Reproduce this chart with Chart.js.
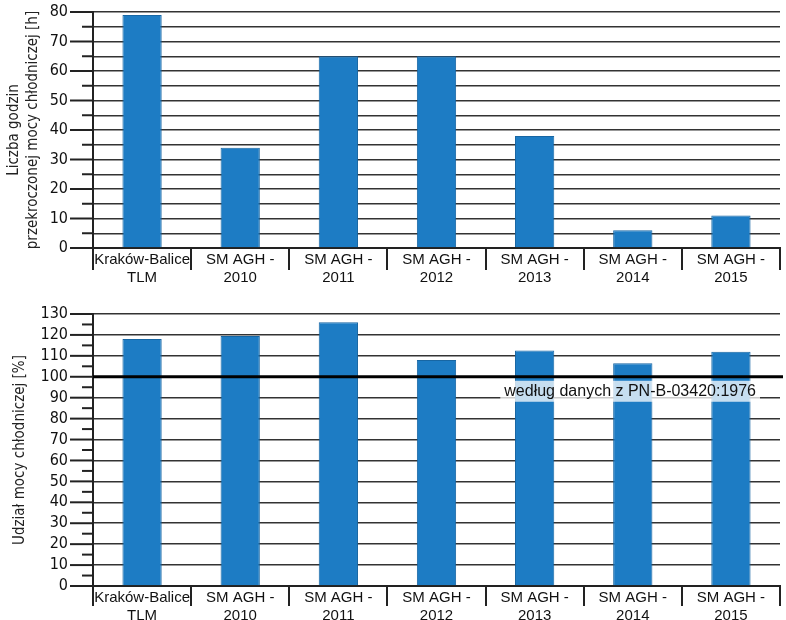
<!DOCTYPE html>
<html>
<head>
<meta charset="utf-8">
<script src="https://cdn.jsdelivr.net/npm/chart.js@4.4.1/dist/chart.umd.min.js"></script>
<style>
  body { margin: 0; background: #fff; }
  .box { position: absolute; left: 0; width: 786px; }
  #top { top: 0; height: 290px; }
  #bottom { top: 290px; height: 330px; }
</style>
</head>
<body>
<div class="box" id="top"><canvas id="hoursChart"></canvas></div>
<div class="box" id="bottom"><canvas id="shareChart"></canvas></div>
<script>
const categories = [
  ["Kraków-Balice", "TLM"],
  ["SM AGH -", "2010"],
  ["SM AGH -", "2011"],
  ["SM AGH -", "2012"],
  ["SM AGH -", "2013"],
  ["SM AGH -", "2014"],
  ["SM AGH -", "2015"],
];
const hoursExceeded = [79, 34, 65, 65, 38, 6, 11];
const coolingShare = [118, 119.5, 126, 108, 112.5, 106.5, 112];
const referenceLevel = 100;
const referenceLabel = "według danych z PN-B-03420:1976";

const NARROW = "'DejaVu Sans Condensed', 'Liberation Sans', Arial, sans-serif";
const SANS = "'Liberation Sans', Arial, sans-serif";
const BAR = "#1d7cc4";

// short tick marks left of the y axis (long at 10s, short at 5s)
const tickMarks = {
  id: "tickMarks",
  afterDraw(chart) {
    const y = chart.scales.y;
    const ctx = chart.ctx;
    ctx.save();
    ctx.strokeStyle = "#222";
    ctx.lineWidth = 2;
    y.ticks.forEach((t) => {
      const py = y.getPixelForValue(t.value);
      const len = t.value % 10 === 0 ? 23 : 11;
      ctx.beginPath();
      ctx.moveTo(y.right - len, py);
      ctx.lineTo(y.right, py);
      ctx.stroke();
    });
    ctx.restore();
  },
};

const refLine = {
  id: "refLine",
  afterDatasetsDraw(chart) {
    if (!chart.options.plugins.refLine) return;
    const { ctx, chartArea } = chart;
    const py = chart.scales.y.getPixelForValue(referenceLevel);
    ctx.save();
    ctx.strokeStyle = "#000";
    ctx.lineWidth = 3;
    ctx.beginPath();
    ctx.moveTo(chartArea.left, py);
    ctx.lineTo(chartArea.right + 3, py);
    ctx.stroke();
    ctx.font = "16px " + SANS;
    const w = ctx.measureText(referenceLabel).width;
    const x1 = chartArea.right - 24;
    ctx.fillStyle = "rgba(255,255,255,0.75)";
    ctx.fillRect(x1 - w - 4, py + 4, w + 8, 21);
    ctx.fillStyle = "#111";
    ctx.textAlign = "right";
    ctx.textBaseline = "middle";
    ctx.fillText(referenceLabel, x1, py + 15);
    ctx.restore();
  },
};

const makeChart = (id, values, max, title, titlePad, padTop, xHeight, tickLen, allGrid, withRef) => {
  return new Chart(document.getElementById(id), {
    type: "bar",
    data: {
      labels: categories,
      datasets: [
        {
          data: values,
          backgroundColor: BAR,
          borderColor: "#1766a3",
          borderWidth: 1,
          barPercentage: 0.4,
          categoryPercentage: 1,
        },
      ],
    },
    options: {
      responsive: true,
      maintainAspectRatio: false,
      animation: false,
      layout: { padding: { top: padTop, right: 6, left: 0, bottom: 0 } },
      plugins: { legend: { display: false }, tooltip: { enabled: false }, refLine: withRef },
      scales: {
        x: {
          offset: true,
          afterFit: (s) => {
            s.height = xHeight;
            s.paddingLeft = 0;
            s.paddingRight = 0;
          },
          grid: { drawOnChartArea: false, drawTicks: true, tickLength: tickLen, color: "#222", lineWidth: 2 },
          border: { color: "#222", width: 2 },
          ticks: {
            autoSkip: false,
            color: "#111",
            font: { family: SANS, size: 15 },
            padding: 3 - tickLen,
            maxRotation: 0,
          },
        },
        y: {
          min: 0,
          max: max,
          afterFit: (s) => {
            s.width = 93;
            s.paddingTop = 0;
            s.paddingBottom = 0;
          },
          ticks: {
            stepSize: 5,
            maxTicksLimit: 100,
            autoSkip: false,
            padding: 25,
            color: "#111",
            font: { family: NARROW, size: 16 },
            callback: (v) => (v % 10 === 0 ? v : ""),
          },
          grid: {
            drawTicks: false,
            lineWidth: 1.5,
            color: (c) => (allGrid || c.tick.value % 10 === 0 ? "#333" : "rgba(0,0,0,0)"),
          },
          border: { color: "#222", width: 2 },
          title: {
            display: true,
            text: title,
            color: "#222",
            font: { family: NARROW, size: 15, lineHeight: 1.25 },
            padding: { top: titlePad, bottom: 0 },
          },
        },
      },
    },
    plugins: [tickMarks, refLine],
  });
};

makeChart("hoursChart", hoursExceeded, 80, ["Liczba godzin", "przekroczonej mocy chłodniczej [h]"], 5, 12, 42, 22, true, false);
makeChart("shareChart", coolingShare, 130, "Udział mocy chłodniczej [%]", 11, 24, 34, 20, false, true);
</script>
</body>
</html>
